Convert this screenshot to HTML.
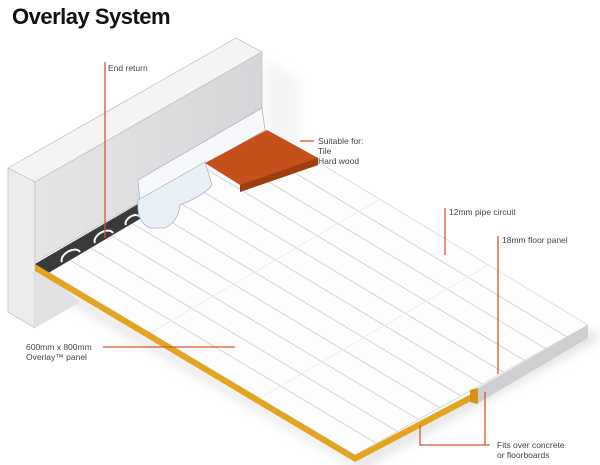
<!DOCTYPE html>
<html><head><meta charset="utf-8"><style>
html,body{margin:0;padding:0;background:#fff;}
svg{display:block;font-family:"Liberation Sans",sans-serif;}
</style></head><body>
<svg width="600" height="465" viewBox="0 0 600 465" xmlns="http://www.w3.org/2000/svg">
<defs>
<linearGradient id="wf" x1="0" y1="0" x2="1" y2="0"><stop offset="0" stop-color="#e6e6e8"/><stop offset="1" stop-color="#d6d6d9"/></linearGradient>
<filter id="sh" x="-20%" y="-20%" width="140%" height="140%"><feGaussianBlur stdDeviation="5"/></filter>
</defs>
<text x="12" y="24" font-size="22" font-weight="bold" fill="#111" letter-spacing="-0.5">Overlay System</text>
<polygon points="40,285 360,470 600,338 590,330 355,462 40,275" fill="#ccc" filter="url(#sh)" opacity="0.6"/>
<polygon points="265,60 300,80 300,150 265,130" fill="#eee" filter="url(#sh)" opacity="0.6"/>
<!-- wall -->
<polygon points="8,168 236,38 262,52 35,182" fill="#f4f4f5" stroke="#bbb" stroke-width="0.7"/>
<polygon points="8,168 35,182 35,328 8,312" fill="#ececee" stroke="#bbb" stroke-width="0.7"/>
<polygon points="35,182 262,52 262,132 35,262" fill="url(#wf)" stroke="#bbb" stroke-width="0.7"/>
<polygon points="35,262 80,302 35,328" fill="#e2e2e5"/>
<!-- floor top -->
<polygon points="35,264 265,130 588,325 355,455" fill="#fdfdfd" stroke="#ccc" stroke-width="0.6"/>
<g stroke="#d4d4d6" stroke-width="1">
<line x1="55.9" y1="251.8" x2="376.2" y2="443.2"/>
<line x1="76.8" y1="239.6" x2="397.4" y2="431.4"/>
<line x1="97.7" y1="227.5" x2="418.5" y2="419.5"/>
<line x1="118.6" y1="215.3" x2="439.7" y2="407.7"/>
<line x1="139.5" y1="203.1" x2="460.9" y2="395.9"/>
<line x1="160.4" y1="190.9" x2="482.1" y2="384.1"/>
<line x1="181.3" y1="178.7" x2="503.3" y2="372.3"/>
<line x1="202.2" y1="166.6" x2="524.4" y2="360.4"/>
<line x1="223.1" y1="154.4" x2="545.6" y2="348.6"/>
<line x1="244" y1="142.2" x2="566.8" y2="336.8"/>
</g>
<g stroke="#ebebed" stroke-width="0.8">
<line x1="150" y1="333" x2="380" y2="199"/>
<line x1="260" y1="398" x2="490" y2="264"/>
</g>
<!-- pipe strip -->
<polygon points="35,264 140,203 150,213 45,275" fill="#3a3a3d"/>
<g fill="none" stroke="#fff" stroke-width="2">
<path d="M62,262 a10,6 -30 0 1 18,-10"/>
<path d="M95,243 a10,6 -30 0 1 18,-10"/>
<path d="M126,225 a8,5 -30 0 1 14,-8"/>
</g>
<!-- skirting -->
<polygon points="138,180 262,108 265,130 140,202" fill="#f6f8fa" stroke="#aab" stroke-width="0.7"/>
<path d="M138,200 L205,162 L212,185 Q205,195 180,205 Q178,222 165,228 L150,228 Q136,222 138,200Z" fill="#e8f0f6" stroke="#aab" stroke-width="0.7"/>
<!-- orange tile -->
<polygon points="205,163 267,130 318,158 318,165 240,192 240,185" fill="#c4501c"/>
<polygon points="240,185 318,158 318,165 240,192" fill="#9e3c12"/>
<!-- front edges -->
<polygon points="35,264 355,455 355,462 35,271" fill="#e3a422"/>
<polygon points="355,455 475,392 475,399 355,462" fill="#e3a422"/>
<polygon points="470,390 478,388 478,404 470,402" fill="#d49418"/>
<polygon points="478,388 588,325 588,338 478,403" fill="#cfcfd2"/>
<!-- labels -->
<g stroke="#d9552f" stroke-width="1.3" fill="none">
<line x1="105" y1="62" x2="105" y2="238"/>
<line x1="300" y1="141" x2="314" y2="141"/>
<line x1="445" y1="208" x2="445" y2="255"/>
<line x1="498" y1="236" x2="498" y2="374"/>
<line x1="103" y1="347" x2="235" y2="347"/>
<polyline points="420,425 420,445 490,445"/>
<line x1="485" y1="392" x2="485" y2="445"/>
</g>
<g font-size="8.5" fill="#444">
<text x="108" y="71">End return</text>
<text x="318" y="144">Suitable for:</text>
<text x="318" y="154">Tile</text>
<text x="318" y="164">Hard wood</text>
<text x="449" y="215">12mm pipe circuit</text>
<text x="502" y="243">18mm floor panel</text>
<text x="26" y="350">600mm x 800mm</text>
<text x="26" y="360">Overlay™ panel</text>
<text x="497" y="448">Fits over concrete</text>
<text x="497" y="458">or floorboards</text>
</g>
</svg>
</body></html>
